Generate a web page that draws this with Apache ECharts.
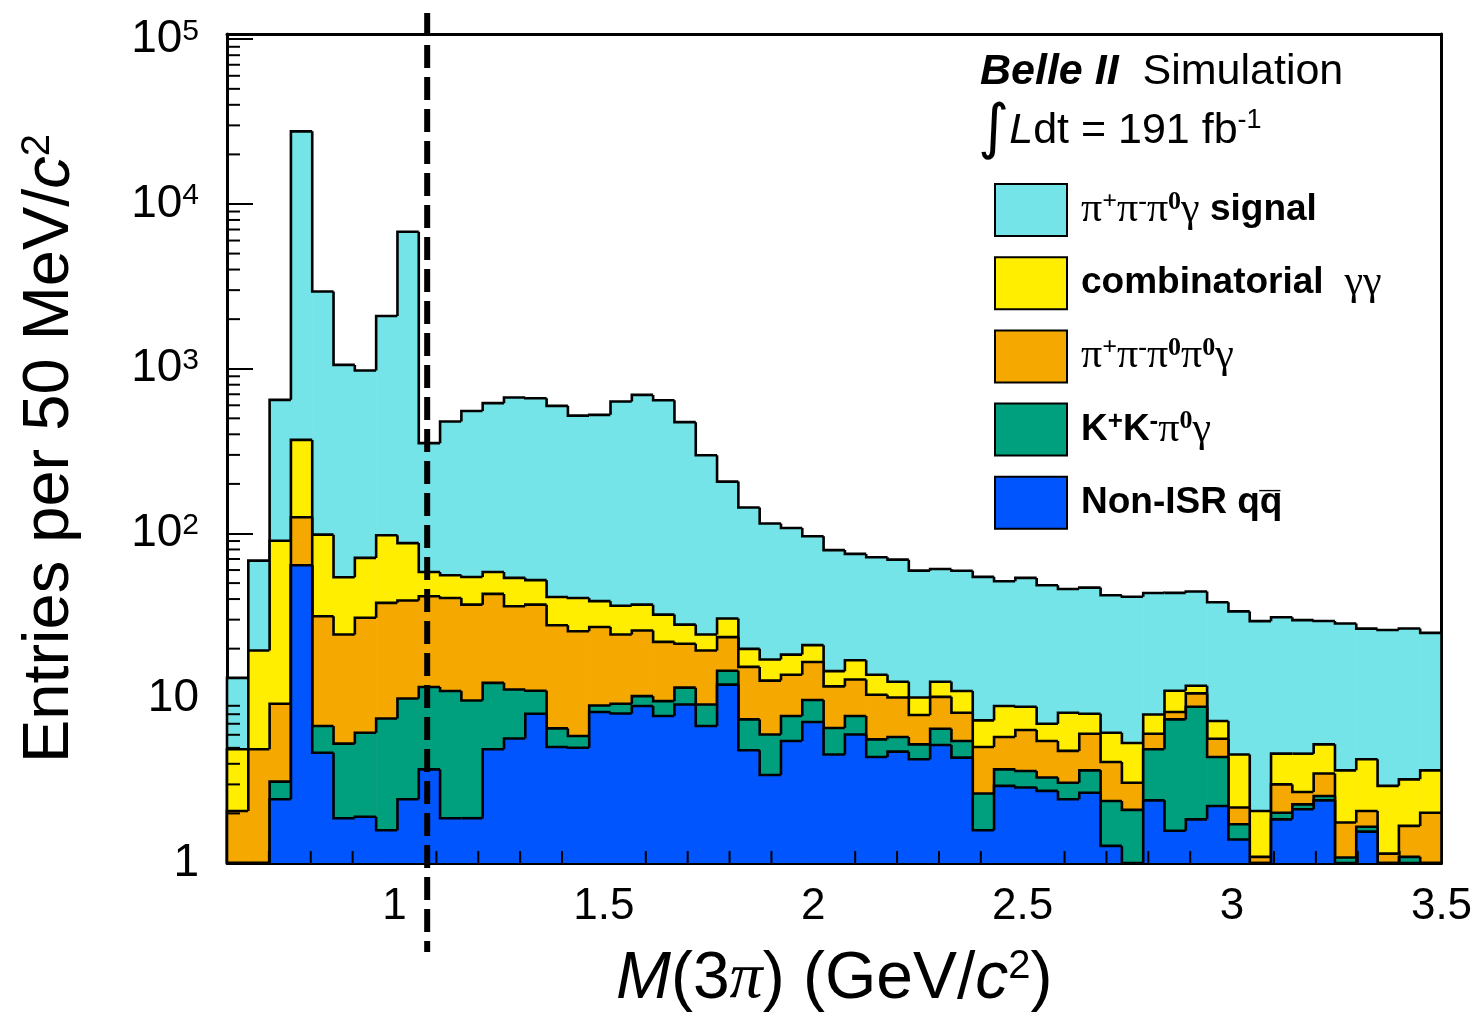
<!DOCTYPE html>
<html><head><meta charset="utf-8">
<script src="https://cdn.jsdelivr.net/npm/echarts@6/dist/echarts.min.js"></script>
<style>html,body{margin:0;padding:0;background:#fff}#c{width:1481px;height:1018px}</style>
</head><body><div id="c"></div><script>
// ---- axis ranges and ticks ----
const xMin = 0.6, xMax = 3.5, binCount = 57;
const yMin = 1, yMax = 107600;
const xMajorTicks = [1, 1.5, 2, 2.5, 3, 3.5];
const xMinorTicks = [0.7,0.8,0.9,1.1,1.2,1.3,1.4,1.6,1.7,1.8,1.9,2.1,2.2,2.3,2.4,2.6,2.7,2.8,2.9,3.1,3.2,3.3,3.4];
const yDecades = [1, 10, 100, 1000, 10000];
const yMinorMultipliers = [2,3,4,5,6,7,8,9];
const cutLine = 1.078;

// ---- component counts per bin (bottom of stack first) ----
const nonISR = [0,0,2.44,64.1,4.67,1.87,1.91,1.58,2.44,3.70,
  1.87,1.87,4.9,5.7,8.05,5.06,5.01,8.25,8.08,8.97,
  7.8,9.17,6.78,12.1,4.83,3.42,5.5,7.17,4.56,6.03,
  4.4,4.74,4.26,5.2,4.36,1.58,2.94,2.87,2.74,2.44,
  2.67,1.27,0,2.4,1.57,1.84,2.22,1.39,0,1.84,
  2.12,2.4,0,1.55,0,0,0];
const kkpi0g = [0,0,0.68,0,2.11,3.43,4.27,5.96,7.53,8.0,
  9.19,7.83,7.5,5.6,3.05,1.5,0.89,0.79,1.18,1.33,
  1.8,2.43,2.39,2.6,2.61,2.61,2.3,2.58,2.04,1.77,
  1.23,1.08,0.99,1.33,1.14,1.06,0.76,0.75,0.56,0.63,
  0.98,1.11,2.1,2.5,5.87,7.04,2.18,0.33,0,0.18,
  0.15,0.15,1.08,0.11,0,1.09,0];
const pipipi0pi0g = [2.07,4.9,6.14,61.3,24.7,19.1,24.6,30.4,29.2,29.9,
  29.5,27.3,30.6,24.9,25.9,21.2,19.6,18.0,15.1,15.5,
  12.4,9.8,10.3,8.8,8.06,6.77,6.1,6.85,5.2,5.2,
  4.87,4.28,2.66,3.67,2.67,2.42,2.12,2.79,2.2,1.72,
  2.44,1.72,0.97,1.19,0.81,1.82,1.28,0.45,1.09,0.98,
  0.43,0.94,0.68,0.41,1.14,0.59,2.02];
const combGG = [2.83,14.6,81.1,244.6,66.9,29.8,40.3,59.6,48.3,16.8,
  15.2,17.5,15.4,17.6,15.1,13.4,15.1,11.8,12.1,11.2,
  10.2,6.6,4.9,7.0,4.45,4.4,4.5,4.4,2.8,4.0,
  3.4,2.5,2.19,2.4,2.89,2.28,3.15,2.47,1.5,3.38,
  1.96,2.08,2.28,1.88,2.85,1.2,1.59,2.39,0.98,1.61,
  1.91,1.76,1.89,2.19,1.8,1.54,1.63];
const signal = [8.4,48.9,557,27230,2842,1001,904,1992,6702,295,
  423,500,560,615,610,554,479,486,596,657,
  612,446,274,176,124,97.8,89.6,75.2,64.7,58.2,
  57.9,56.8,49.4,48.3,48.4,47.2,42.3,44.9,41.5,37.9,
  38.9,36.0,36.0,35.6,32.5,32.6,31.0,29.1,27.3,26.4,
  25.2,24.2,24.8,22.2,23.0,23.3,21.3];

const legendLabels = {
  signal: '{g|π}{sp|+}{g|π}{sp|-}{g|π}{sp|0}{g|γ}{b| signal}',
  comb: '{b|combinatorial }{g| γγ}',
  pi0pi0: '{g|π}{sp|+}{g|π}{sp|-}{g|π}{sp|0}{g|π}{sp|0}{g|γ}',
  kk: '{b|K}{sb|+}{b|K}{sb|-}{g|π}{sp|0}{g|γ}',
  nonisr: '{b|Non-ISR q}{b|q\u0305}'
};
const colors = {signal:'#74e4e8', comb:'#ffee00', pi0pi0:'#f5a800', kk:'#00a07f', nonisr:'#0055ff'};

// stacked (cumulative) values
const layersBottomUp = [nonISR, kkpi0g, pipipi0pi0g, combGG, signal];
const keysBottomUp = ['nonisr','kk','pi0pi0','comb','signal'];
const cum = [];
let run = new Array(binCount).fill(0);
layersBottomUp.forEach(arr => { run = run.map((v, i) => v + arr[i]); cum.push(run.slice()); });

const binW = (xMax - xMin) / binCount;
function layerData(c) {
  return c.map((v, i) => [xMin + i * binW, xMin + (i + 1) * binW, v, i === 0 ? 0 : c[i - 1], i === binCount - 1 ? 1 : 0]);
}
function histRender(color) {
  return function (params, api) {
    const x0 = api.value(0), x1 = api.value(1);
    const v = Math.max(api.value(2), yMin), pv = Math.max(api.value(3), yMin);
    const last = api.value(4) === 1;
    const yb = api.coord([x0, yMin])[1];
    const p0 = api.coord([x0, v]);
    const p1 = api.coord([x1, v]);
    const pp = api.coord([x0, pv]);
    const pts = [[p0[0], pp[1]], [p0[0], p0[1]], [p1[0], p0[1]]];
    if (last) pts.push([p1[0], yb]);
    return {type: 'group', children: [
      {type: 'rect', shape: {x: p0[0], y: p0[1], width: p1[0] - p0[0] + 0.6, height: yb - p0[1]}, style: {fill: color}},
      {type: 'polyline', shape: {points: pts}, style: {stroke: '#000', lineWidth: 2.6, fill: 'none', lineJoin: 'miter'}}
    ]};
  };
}
const series = [];
for (let k = keysBottomUp.length - 1; k >= 0; k--) {
  const key = keysBottomUp[k];
  series.push({
    name: key, type: 'custom', coordinateSystem: 'cartesian2d',
    itemStyle: {color: colors[key]},
    encode: {x: [0, 1], y: 2},
    data: layerData(cum[k]),
    renderItem: histRender(colors[key]),
    silent: true, z: 2
  });
}
// minor ticks through the axes' scales
const tickData = [];
xMinorTicks.forEach(v => tickData.push([v, yMin, 0]));
yDecades.forEach(d => yMinorMultipliers.forEach(m => tickData.push([xMin, d * m, 1])));
series.push({
  name: 'ticks', type: 'custom', coordinateSystem: 'cartesian2d', silent: true, z: 5,
  encode: {x: 0, y: 1}, data: tickData,
  renderItem: function (params, api) {
    if (api.value(2) === 0) {
      const p = api.coord([api.value(0), yMin]);
      return {type: 'line', shape: {x1: p[0], y1: p[1], x2: p[0], y2: p[1] - 12}, style: {stroke: '#000', lineWidth: 2}};
    }
    const p = api.coord([xMin, api.value(1)]);
    return {type: 'line', shape: {x1: p[0], y1: p[1], x2: p[0] + 13, y2: p[1]}, style: {stroke: '#000', lineWidth: 2}};
  }
});

const F = 'Liberation Sans', S = 'Liberation Serif';
const chart = echarts.init(document.getElementById('c'), null, {renderer: 'canvas'});
chart.setOption({
  animation: false,
  backgroundColor: '#fff',
  grid: {left: 227, right: 39.5, top: 34, bottom: 151.5, show: false},
  title: [
    {text: '{bi|Belle II}{r|  Simulation}', left: 980, top: 51, padding: 0,
     textStyle: {fontWeight: 'normal', rich: {bi: {fontFamily: F, fontWeight: 'bold', fontStyle: 'italic', fontSize: 43, color: '#000'},
                        r: {fontFamily: F, fontWeight: 'normal', fontSize: 43, color: '#000'}}}},
    {text: '{int|∫}{i|L}{r|dt = 191 fb}{sp|-1}', left: 978, top: 101, padding: 0,
     textStyle: {fontWeight: 'normal', rich: {int: {fontFamily: 'DejaVu Sans', fontWeight: 'normal', fontSize: 60, color: '#000'},
                        i: {fontFamily: F, fontStyle: 'italic', fontWeight: 'normal', fontSize: 43, color: '#000'},
                        r: {fontFamily: F, fontWeight: 'normal', fontSize: 43, color: '#000'},
                        sp: {fontFamily: F, fontWeight: 'normal', fontSize: 27, color: '#000', verticalAlign: 'top', padding: [6, 0, 0, 0]}}}}
  ],
  legend: {
    orient: 'vertical', left: 994, top: 183, padding: 0, itemWidth: 72, itemHeight: 52, itemGap: 19.2,
    selectedMode: false,
    data: ['signal','comb','pi0pi0','kk','nonisr'].map(n => ({name: n, icon: 'rect',
      itemStyle: {color: colors[n], borderColor: '#000', borderWidth: 2}})),
    formatter: n => legendLabels[n],
    textStyle: {padding: [0, 0, 0, 9], rich: {
      g: {fontFamily: S, fontSize: 42, color: '#000'},
      sp: {fontFamily: S, fontSize: 26, fontWeight: 'bold', color: '#000', verticalAlign: 'top'},
      sb: {fontFamily: F, fontSize: 26, fontWeight: 'bold', color: '#000', verticalAlign: 'top'},
      b: {fontFamily: F, fontSize: 37, fontWeight: 'bold', color: '#000'}
    }}
  },
  xAxis: [{
    type: 'value', min: xMin, max: xMax, position: 'bottom',
    axisLine: {lineStyle: {color: '#000', width: 3}},
    axisTick: {customValues: xMajorTicks, inside: true, length: 24, lineStyle: {color: '#000', width: 2}},
    axisLabel: {customValues: xMajorTicks, formatter: v => String(v), fontFamily: F, fontSize: 44, color: '#000', margin: 22},
    splitLine: {show: false},
    name: '{i|M}{r|(3}{p|π}{r|) (GeV/}{i|c}{sp|2}{r|)}', nameLocation: 'middle', nameGap: 84,
    nameTextStyle: {rich: {
      i: {fontFamily: F, fontStyle: 'italic', fontSize: 66, color: '#000'},
      r: {fontFamily: F, fontSize: 66, color: '#000'},
      p: {fontFamily: S, fontStyle: 'italic', fontSize: 66, color: '#000'},
      sp: {fontFamily: F, fontSize: 40, color: '#000', verticalAlign: 'top'}
    }}
  }, {
    type: 'value', min: xMin, max: xMax, position: 'top',
    axisLine: {lineStyle: {color: '#000', width: 3}}, axisTick: {show: false}, axisLabel: {show: false}, splitLine: {show: false}
  }],
  yAxis: [{
    type: 'log', logBase: 10, min: yMin, max: yMax, position: 'left',
    axisLine: {lineStyle: {color: '#000', width: 3}},
    axisTick: {inside: true, length: 26, lineStyle: {color: '#000', width: 2}},
    axisLabel: {showMaxLabel: false, margin: 28, fontFamily: F, fontSize: 46, color: '#000',
      formatter: v => v < 5 ? '1' : (v < 50 ? '10' : '{b|10}{e|' + Math.round(Math.log10(v)) + '}'),
      rich: {b: {fontFamily: F, fontSize: 46, color: '#000'},
             e: {fontFamily: F, fontSize: 30, color: '#000', verticalAlign: 'top'}}},
    splitLine: {show: false}, minorTick: {show: false},
    name: '{r|Entries per 50 MeV/}{i|c}{sp|2}', nameLocation: 'middle', nameGap: 144, nameRotate: 90,
    nameTextStyle: {rich: {
      r: {fontFamily: F, fontSize: 65, color: '#000'},
      i: {fontFamily: F, fontStyle: 'italic', fontSize: 65, color: '#000'},
      sp: {fontFamily: F, fontSize: 40, color: '#000', verticalAlign: 'top'}
    }}
  }, {
    type: 'log', logBase: 10, min: yMin, max: yMax, position: 'right',
    axisLine: {lineStyle: {color: '#000', width: 3}}, axisTick: {show: false}, axisLabel: {show: false}, splitLine: {show: false}
  }],
  series: series
});
const cx = chart.convertToPixel({xAxisIndex: 0}, cutLine);
chart.setOption({graphic: [{type: 'line', z: 100, shape: {x1: cx, y1: 13, x2: cx, y2: 952},
  style: {stroke: '#000', lineWidth: 6, lineDash: [23, 9]}}]});
</script></body></html>
